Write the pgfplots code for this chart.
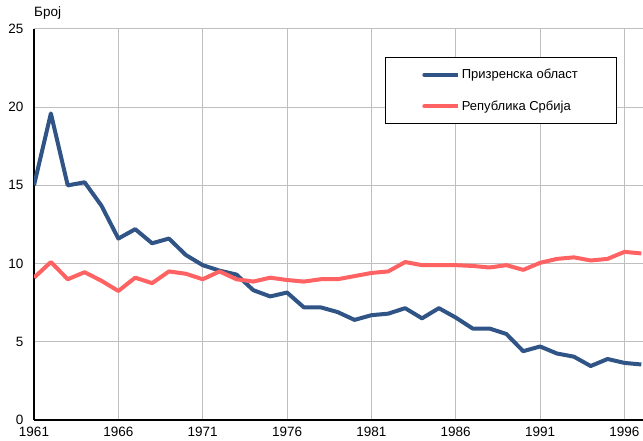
\documentclass[border=0pt]{standalone}
\usepackage{pgfplots}
\pgfplotsset{compat=1.18}
\usepackage{fontspec}
\setmainfont{Liberation Sans}
\definecolor{pblue}{HTML}{2F5485}
\definecolor{pred}{HTML}{FF6262}
\begin{document}
\fontsize{13.5}{16}\selectfont
\begin{tikzpicture}
\useasboundingbox (-34pt,-21pt) rectangle (609pt,420pt);
\begin{axis}[
  at={(0pt,0pt)}, anchor=south west,
  scale only axis, width=609pt, height=391pt,
  xmin=1961, xmax=1997.1, ymin=0, ymax=25,
  xtick={1961,1966,...,1996}, ytick={0,5,...,25},
  /pgf/number format/assume math mode=true,
  xticklabel style={/pgf/number format/1000 sep={}, font=\fontsize{13.5}{16}\selectfont, yshift=-2pt},
  yticklabel style={font=\fontsize{13.5}{16}\selectfont, xshift=-6pt},
  major tick length=0pt,
  axis x line*=bottom, axis y line*=left,
  axis line style={black, line width=1.2pt},
  grid=major,
  major grid style={color=black!25, line width=1pt},
  ylabel={Број},
  every axis y label/.style={at={(rel axis cs:0,1)}, anchor=south west, inner sep=0pt, yshift=9pt, font=\fontsize{13.5}{16}\selectfont},
  legend style={at={(rel axis cs:0.957,0.928)}, anchor=north east, draw=black, line width=0.8pt,
    inner xsep=37pt, inner ysep=10pt, row sep=17pt, font=\fontsize{13}{15}\selectfont,
    nodes={inner sep=1.5pt}},
  legend cell align=left,
  legend image code/.code={\draw[#1, line width=4pt, line cap=round] (0pt,0pt) -- (30pt,0pt); \path (0pt,0pt) -- (34pt,0pt);},
]
\addplot[pblue, line width=4pt, line join=round] coordinates {
(1961,15.0) (1962,19.6) (1963,15.0) (1964,15.2) (1965,13.7) (1966,11.6) (1967,12.2) (1968,11.3) (1969,11.6) (1970,10.55)
(1971,9.9) (1972,9.55) (1973,9.3) (1974,8.3) (1975,7.9) (1976,8.15) (1977,7.2) (1978,7.2) (1979,6.9) (1980,6.4)
(1981,6.7) (1982,6.8) (1983,7.15) (1984,6.5) (1985,7.15) (1986,6.55) (1987,5.85) (1988,5.85) (1989,5.5) (1990,4.4)
(1991,4.7) (1992,4.25) (1993,4.05) (1994,3.45) (1995,3.9) (1996,3.65) (1997,3.55)};
\addlegendentry{Призренска област}
\addplot[pred, line width=4pt, line join=round] coordinates {
(1961,9.1) (1962,10.1) (1963,9.0) (1964,9.45) (1965,8.9) (1966,8.25) (1967,9.1) (1968,8.75) (1969,9.5) (1970,9.35)
(1971,9.0) (1972,9.5) (1973,9.0) (1974,8.85) (1975,9.1) (1976,8.95) (1977,8.85) (1978,9.0) (1979,9.0) (1980,9.2)
(1981,9.4) (1982,9.5) (1983,10.1) (1984,9.9) (1985,9.9) (1986,9.9) (1987,9.85) (1988,9.75) (1989,9.9) (1990,9.6)
(1991,10.05) (1992,10.3) (1993,10.4) (1994,10.2) (1995,10.3) (1996,10.75) (1997,10.65)};
\addlegendentry{Република Србија}
\end{axis}
\end{tikzpicture}
\end{document}
